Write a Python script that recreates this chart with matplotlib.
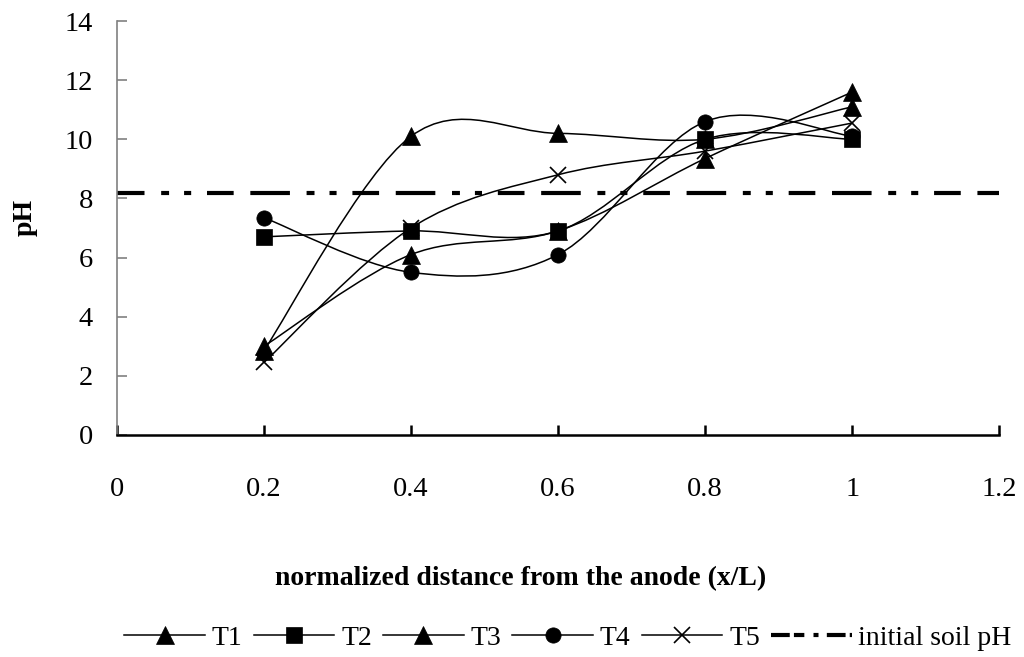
import matplotlib
matplotlib.use("Agg")
import matplotlib.pyplot as plt
import numpy as np
from matplotlib.path import Path
from matplotlib.patches import PathPatch
from matplotlib.lines import Line2D

plt.rcParams["font.family"] = ["Liberation Serif", "DejaVu Serif"]

# normalized distance from the anode
x = [0.2, 0.4, 0.6, 0.8, 1.0]
# pH per test
t1 = [3.0, 6.1, 6.9, 9.35, 11.6]
t2 = [6.7, 6.9, 6.9, 10.0, 10.0]
t3 = [2.85, 10.1, 10.2, 10.0, 11.1]
t4 = [7.35, 5.5, 6.1, 10.6, 10.1]
t5 = [2.45, 7.0, 8.8, 9.6, 10.55]
initial_ph = 8.2
xticks = [0, 0.2, 0.4, 0.6, 0.8, 1.0, 1.2]
xticklabels = ["0", "0.2", "0.4", "0.6", "0.8", "1", "1.2"]

SERIES = [
    ("T1", t1, "^", 13),
    ("T2", t2, "s", 11),
    ("T3", t3, "^", 13),
    ("T4", t4, "o", 11),
    ("T5", t5, "x", 12),
]


def smooth_path(xs, ys):
    # excel-style smoothed line: cubic bezier through the points
    pts = np.column_stack([xs, ys])
    n = len(pts)
    verts = [pts[0]]
    codes = [Path.MOVETO]
    for i in range(n - 1):
        p0 = pts[i - 1] if i > 0 else pts[i]
        p1 = pts[i]
        p2 = pts[i + 1]
        p3 = pts[i + 2] if i + 2 < n else pts[i + 1]
        c1 = p1 + (p2 - p0) / 6.0
        c2 = p2 - (p3 - p1) / 6.0
        verts += [c1, c2, p2]
        codes += [Path.CURVE4] * 3
    return Path(verts, codes)


fig = plt.figure(figsize=(10.24, 6.57), dpi=100)
ax = fig.add_axes([0.114, 0.338, 0.862, 0.63])

handles = []
for name, ys, mk, ms in SERIES:
    ax.add_patch(PathPatch(smooth_path(x, ys), fill=False, ec="black", lw=1.1, zorder=3))
    mew = 1.2 if mk == "x" else 0.5
    ax.plot(x, ys, ls="none", marker=mk, ms=ms, color="black", mew=mew, zorder=4)
    handles.append(Line2D([], [], color="black", lw=1.1, marker=mk, ms=ms, mew=mew))

dash = (13.3, (6.4, 4.0, 9.5, 4.0, 1.9, 3.6, 1.7, 3.8))
ax.plot([0, 1.2], [initial_ph, initial_ph], color="black", lw=3, ls=dash,
        solid_capstyle="butt", dash_capstyle="butt", zorder=2)
handles.append(Line2D([], [], color="black", lw=3, ls=(0, (4.5, 1.0, 2.5, 2.2, 1.2, 2))))

ax.set_xlim(0, 1.2)
ax.set_ylim(0, 14)
ax.set_xticks(xticks)
ax.set_xticklabels(xticklabels)
ax.set_yticks(range(0, 15, 2))

for s in ("top", "right"):
    ax.spines[s].set_visible(False)
ax.spines["left"].set_color("#808080")
ax.spines["left"].set_linewidth(1.2)
ax.spines["bottom"].set_linewidth(1.8)
ax.tick_params(axis="y", direction="in", length=7, width=1.2, color="#808080",
               labelsize=20.5, pad=17)
ax.tick_params(axis="x", direction="in", length=7, width=1.8, labelsize=20.5, pad=30)

ax.set_ylabel("pH", fontsize=20, fontweight="bold")
ax.yaxis.set_label_coords(-0.09, 0.525)
fig.text(521 / 1024, 1 - 579 / 657, "normalized distance from the anode (x/L)",
         ha="center", va="center", fontsize=20, fontweight="bold")

fig.legend(handles, ["T1", "T2", "T3", "T4", "T5", "initial soil pH"],
           loc="center", bbox_to_anchor=(568 / 1024, 1 - 638 / 657), ncol=6,
           frameon=False, fontsize=20, handlelength=2.9, handletextpad=0.25,
           columnspacing=0.4)

fig.savefig("out.png", dpi=100)
